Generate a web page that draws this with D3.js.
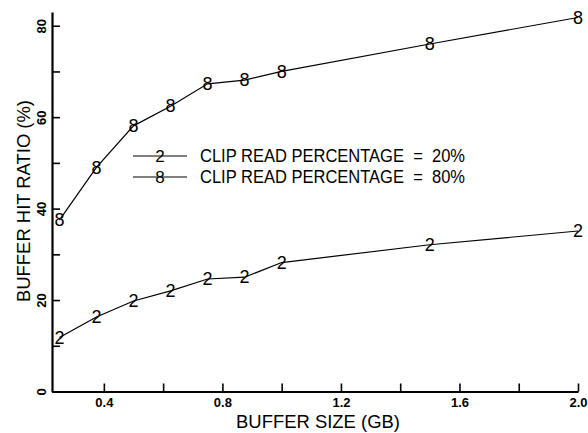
<!DOCTYPE html>
<html>
<head>
<meta charset="utf-8">
<script src="https://cdn.jsdelivr.net/npm/d3@7"></script>
<style>
  html, body { margin: 0; padding: 0; background: #fff; }
  svg { display: block; font-family: "Liberation Sans", Arial, sans-serif; }
</style>
</head>
<body>
<svg id="chart" width="588" height="433"></svg>
<script>
// buffer size (GB) for every measurement
const bufferSizes = [0.25, 0.375, 0.5, 0.625, 0.75, 0.875, 1.0, 1.5, 2.0];
// hit ratio (%) per clip read percentage
const hitRatio20 = [11.8, 16.3, 19.8, 22.0, 24.6, 25.0, 28.2, 32.1, 35.1];
const hitRatio80 = [37.5, 49.0, 58.1, 62.4, 67.3, 68.1, 70.0, 76.0, 81.8];
const seriesSymbols = ["2", "8"];
const seriesNames = ["CLIP READ PERCENTAGE  =  20%", "CLIP READ PERCENTAGE  =  80%"];
const xTicks = [0.4, 0.6, 0.8, 1.0, 1.2, 1.4, 1.6, 1.8, 2.0];
const xTickLabels = [0.4, 0.8, 1.2, 1.6, 2.0];
const yTicks = [0, 10, 20, 30, 40, 50, 60, 70, 80];
const yTickLabels = [0, 20, 40, 60, 80];

const svg = d3.select("#chart");

const xScale = d3.scaleLinear().domain([0.225, 2.0]).range([52, 578]);
const yScale = d3.scaleLinear().domain([0, 83]).range([391.5, 12]);

/**
 * styleAxis: function
 * thick axis line, thin inward ticks, no end caps
 */
function styleAxis(g) {
    g.select(".domain").attr("stroke", "#000").attr("stroke-width", 2.2);
    g.selectAll(".tick line").attr("stroke", "#000").attr("stroke-width", 1.6);
    g.selectAll(".tick text")
        .attr("fill", "#000")
        .attr("font-size", "13px")
        .attr("font-weight", "bold");
}

// x axis
const xAxis = d3.axisBottom(xScale)
    .tickValues(xTicks)
    .tickSizeInner(-8)
    .tickSizeOuter(0)
    .tickPadding(6)
    .tickFormat(d => xTickLabels.some(v => Math.abs(v - d) < 1e-9) ? d3.format(".1f")(d) : "");

svg.append("g")
    .attr("transform", `translate(0,${yScale(0)})`)
    .call(xAxis)
    .call(styleAxis);

// y axis, labels turned sideways
const yAxis = d3.axisLeft(yScale)
    .tickValues(yTicks)
    .tickSizeInner(-8)
    .tickSizeOuter(0)
    .tickFormat(d => yTickLabels.includes(d) ? d : "");

svg.append("g")
    .attr("transform", `translate(${xScale(0.225)},0)`)
    .call(yAxis)
    .call(styleAxis)
    .selectAll(".tick text")
    .attr("transform", "rotate(-90)")
    .attr("text-anchor", "middle")
    .attr("x", 0)
    .attr("y", -11)
    .attr("dy", "0.35em");

// axis titles
svg.append("text")
    .attr("x", 318)
    .attr("y", 428)
    .attr("text-anchor", "middle")
    .attr("font-size", "19px")
    .attr("textLength", 164)
    .attr("lengthAdjust", "spacingAndGlyphs")
    .text("BUFFER SIZE (GB)");

svg.append("text")
    .attr("transform", "translate(23,201) rotate(-90)")
    .attr("text-anchor", "middle")
    .attr("dy", "0.35em")
    .attr("font-size", "19px")
    .attr("textLength", 202)
    .attr("lengthAdjust", "spacingAndGlyphs")
    .text("BUFFER HIT RATIO (%)");

/**
 * drawSeries: function
 * polyline with the series digit written over every point
 */
function drawSeries(values, symbol) {
    const points = bufferSizes.map((x, i) => [x, values[i]]);
    const line = d3.line()
        .x(d => xScale(d[0]))
        .y(d => yScale(d[1]));

    svg.append("path")
        .datum(points)
        .attr("d", line)
        .attr("fill", "none")
        .attr("stroke", "#000")
        .attr("stroke-width", 1.2);

    svg.append("g")
        .selectAll("text")
        .data(points)
        .enter()
        .append("text")
        .attr("x", d => xScale(d[0]))
        .attr("y", d => yScale(d[1]))
        .attr("dy", "0.35em")
        .attr("text-anchor", "middle")
        .attr("font-size", "18px")
        .text(symbol);
}

drawSeries(hitRatio20, seriesSymbols[0]);
drawSeries(hitRatio80, seriesSymbols[1]);

// legend
const legend = svg.append("g");
seriesNames.forEach((name, i) => {
    const y = 156 + i * 21;
    legend.append("line")
        .attr("x1", 133).attr("x2", 187)
        .attr("y1", y).attr("y2", y)
        .attr("stroke", "#000")
        .attr("stroke-width", 1.2);
    legend.append("text")
        .attr("x", 160).attr("y", y)
        .attr("dy", "0.35em")
        .attr("text-anchor", "middle")
        .attr("font-size", "17px")
        .text(seriesSymbols[i]);
    legend.append("text")
        .attr("x", 200).attr("y", y)
        .attr("dy", "0.35em")
        .attr("font-size", "18px")
        .attr("textLength", 265)
        .attr("lengthAdjust", "spacingAndGlyphs")
        .style("white-space", "pre")
        .text(name);
});
</script>
</body>
</html>
